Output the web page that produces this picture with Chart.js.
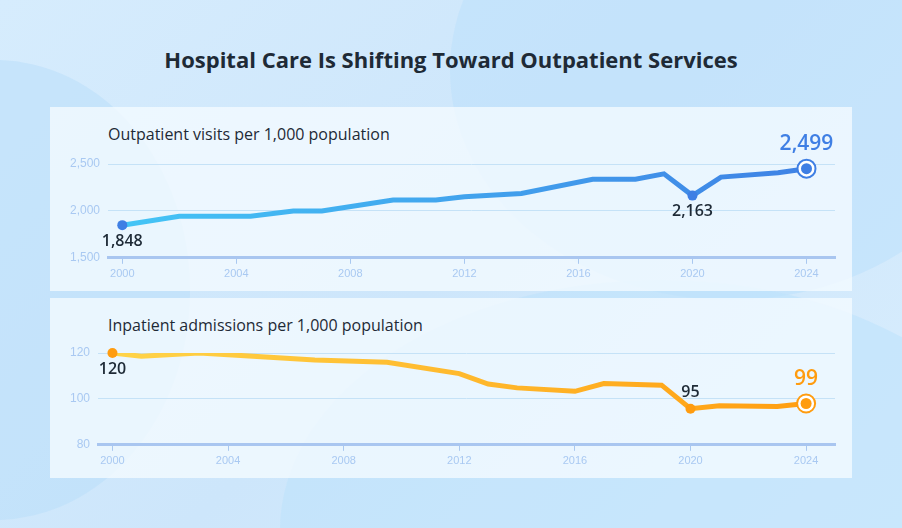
<!DOCTYPE html>
<html><head><meta charset="utf-8">
<script src="https://cdn.jsdelivr.net/npm/chart.js@4"></script>
<style>
body{margin:0;width:902px;height:528px;overflow:hidden;font-family:"Open Sans",sans-serif;position:relative;
background:linear-gradient(135deg,#d6ecfd 0%,#cde6fb 50%,#d8edfd 100%);}
.c{position:absolute;border-radius:50%;}
.panel{position:absolute;left:50px;width:802px;background:rgba(245,251,255,0.78);}
.pt{position:absolute;left:58px;font-size:16px;color:#1e2a36;font-weight:500}
h1{position:absolute;top:44px;left:0;width:902px;text-align:center;margin:0;font-size:22px;font-weight:700;color:#1e2a36}
canvas{position:absolute;left:0;top:0}
</style></head><body>
<div class="c" style="left:450px;top:-160px;width:560px;height:460px;background:rgba(190,225,252,0.6)"></div>
<div class="c" style="left:-200px;top:60px;width:390px;height:460px;background:rgba(185,222,250,0.55)"></div>
<div class="c" style="left:280px;top:280px;width:760px;height:500px;background:rgba(190,226,252,0.6)"></div>
<h1>Hospital Care Is Shifting Toward Outpatient Services</h1>
<div class="panel" style="top:107px;height:184px"><div class="pt" style="top:16px">Outpatient visits per 1,000 population</div><canvas id="c1" width="802" height="184"></canvas></div>
<div class="panel" style="top:298px;height:180px"><div class="pt" style="top:16px">Inpatient admissions per 1,000 population</div><canvas id="c2" width="802" height="180"></canvas></div>
<script>
const xTicks=[2000,2004,2008,2012,2016,2020,2024];
const outYears=[2000,2002,2004.5,2006,2007,2009.5,2011,2012,2014,2016.5,2018,2019,2020,2021,2023,2024];
const outVals=[1848,1942,1942,2000,2000,2116,2116,2151,2186,2337,2337,2395,2163,2360,2407,2450];
const outTicks=[1500,2000,2500];
const inYears=[2000,2001,2003,2007,2009.5,2012,2013,2014,2016,2017,2019,2020,2021,2023,2024];
const inVals=[120,118.6,120,117,116,111,106.5,104.8,103.3,106.7,106,95.7,97,96.7,98];
const inTicks=[80,100,120];
const outLabels=[{i:0,t:"1,848",pos:"below",big:false},{i:12,t:"2,163",pos:"below",big:false},{i:15,t:"2,499",pos:"above",big:true}];
const inLabels=[{i:0,t:"120",pos:"below",big:false},{i:11,t:"95",pos:"above",big:false},{i:14,t:"99",pos:"above",big:true}];

function make(id,h,years,vals,yt,c1,c2,labels,accent){
  const cv=document.getElementById(id);
  const labPlugin={id:'labs',afterDatasetsDraw(ch){
    const ctx=ch.ctx,m=ch.getDatasetMeta(0);
    labels.forEach(l=>{const p=m.data[l.i];
      ctx.save();ctx.textAlign='center';
      if(l.big){
        ctx.beginPath();ctx.arc(p.x,p.y,9,0,7);ctx.fillStyle='#fff';ctx.fill();
        ctx.lineWidth=2;ctx.strokeStyle=accent;ctx.stroke();
        ctx.beginPath();ctx.arc(p.x,p.y,5.5,0,7);ctx.fillStyle=accent;ctx.fill();
        ctx.font='600 21px "Open Sans"';ctx.fillStyle=accent;ctx.textBaseline='bottom';
        ctx.fillText(l.t,p.x,p.y-14);
      }else{
        ctx.beginPath();ctx.arc(p.x,p.y,5,0,7);ctx.fillStyle=accent;ctx.fill();
        ctx.font='600 16px "Open Sans"';ctx.fillStyle='#1e2a36';
        ctx.textBaseline=l.pos=='below'?'top':'bottom';
        ctx.fillText(l.t,p.x,l.pos=='below'?p.y+8:p.y-8);
      }
      ctx.restore();});
  }};
  new Chart(cv,{type:'line',
    data:{datasets:[{data:years.map((y,i)=>({x:y,y:vals[i]})),borderWidth:5,pointRadius:0,tension:0,
      borderColor:(c)=>{const a=c.chart.chartArea;if(!a)return c1;const g=c.chart.ctx.createLinearGradient(a.left,0,a.right,0);g.addColorStop(0,c1);g.addColorStop(1,c2);return g;}}]},
    options:{responsive:false,animation:false,devicePixelRatio:1,
      layout:{padding:{left:12,right:17,top:h==184?57:55,bottom:6}},
      plugins:{legend:{display:false},tooltip:{enabled:false}},
      scales:{
        x:{type:'linear',min:1999.5,max:2025,afterBuildTicks:a=>{a.ticks=xTicks.map(v=>({value:v}))},
          grid:{display:true,drawOnChartArea:false,drawTicks:true,tickLength:6,color:'#a9c8f0'},
          border:{color:'#a9c6f0',width:3},
          ticks:{color:'#a9c9f2',font:{size:11},callback:v=>String(v),padding:4}},
        y:{min:yt[0],max:yt[2],afterBuildTicks:a=>{a.ticks=yt.map(v=>({value:v}))},
          grid:{color:'#c5e2f7',drawTicks:false},border:{display:false},
          ticks:{color:'#a9c9f2',font:{size:12},padding:8,callback:v=>v.toLocaleString('en-US')}}}},
    plugins:[labPlugin]});
}
make('c1',184,outYears,outVals,outTicks,'#44c6f6','#3f7fe4',outLabels,'#3f7fe4');
make('c2',180,inYears,inVals,inTicks,'#ffd54a','#ff9c0f',inLabels,'#ff9c0f');
</script></body></html>
